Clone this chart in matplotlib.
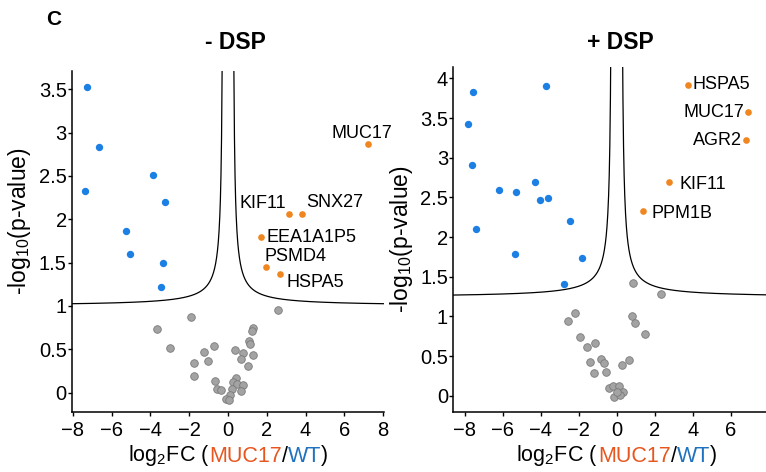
"""Volcano plots of MUC17 vs WT interactors, without and with DSP crosslinking."""

import matplotlib

matplotlib.use("Agg")
import matplotlib.pyplot as plt
import numpy as np

plt.rcParams.update({
    "font.family": "Liberation Sans",
    "mathtext.fontset": "custom",
    "mathtext.rm": "Liberation Sans",
    "mathtext.default": "regular",
})

# ---- data --------------------------------------------------------------------
# panel "- DSP"
L_BLUE_X = [-7.27, -6.66, -7.39, -3.85, -3.23, -5.26, -5.04, -3.35, -3.44]
L_BLUE_Y = [3.52, 2.83, 2.33, 2.51, 2.20, 1.86, 1.60, 1.50, 1.22]

L_HIT_NAMES = ["MUC17", "KIF11", "SNX27", "EEA1A1P5", "PSMD4", "HSPA5"]
L_HIT_X = [7.25, 3.14, 3.80, 1.72, 1.94, 2.68]
L_HIT_Y = [2.87, 2.06, 2.06, 1.80, 1.45, 1.37]

L_GRAY_X = [2.56, -1.91, -3.68, 1.31, 1.24, -2.97, -0.72, -1.25, 1.07, 1.15,
            0.38, 0.77, 1.27, -1.77, -1.02, 0.65, 1.02, -1.74, -0.69, 0.43,
            0.24, 0.45, 0.79, -0.55, -0.38, 0.22, 0.67, 0.10, -0.10, 0.04]
L_GRAY_Y = [0.95, 0.87, 0.73, 0.74, 0.71, 0.51, 0.54, 0.47, 0.59, 0.56,
            0.49, 0.46, 0.43, 0.34, 0.36, 0.39, 0.31, 0.19, 0.13, 0.17,
            0.12, 0.10, 0.09, 0.04, 0.03, 0.04, 0.02, -0.03, -0.07, -0.08]

# panel "+ DSP"
R_BLUE_X = [-7.54, -7.84, -7.64, -3.73, -7.40, -6.21, -5.32, -4.31, -4.02,
            -3.61, -2.45, -5.36, -1.85, -2.76]
R_BLUE_Y = [3.83, 3.42, 2.91, 3.91, 2.10, 2.59, 2.57, 2.70, 2.47,
            2.49, 2.20, 1.79, 1.74, 1.41]

R_HIT_NAMES = ["HSPA5", "MUC17", "AGR2", "KIF11", "PPM1B"]
R_HIT_X = [3.77, 6.90, 6.79, 2.76, 1.38]
R_HIT_Y = [3.92, 3.58, 3.22, 2.69, 2.33]

R_GRAY_X = [0.87, 2.31, -2.18, -2.55, 0.79, 0.94, 1.48, -1.92, -1.57, -1.14,
            -1.42, -0.85, -0.68, 0.66, 0.30, -1.17, -0.58, -0.40, -0.19, 0.14,
            0.35, -0.12, 0.19, 0.02]
R_GRAY_Y = [1.42, 1.28, 1.05, 0.94, 1.01, 0.92, 0.78, 0.74, 0.62, 0.66,
            0.43, 0.47, 0.42, 0.45, 0.39, 0.29, 0.30, 0.10, 0.12, 0.13,
            0.05, -0.01, 0.01, 0.05]

# significance threshold curve: y = y0 + c / (|x| - x0)
L_CURVE = dict(y0=1.0, c=0.2, x0=0.23)
R_CURVE = dict(y0=1.24, c=0.25, x0=0.23)

L_XTICKS = [-8, -6, -4, -2, 0, 2, 4, 6, 8]
R_XTICKS = [-8, -6, -4, -2, 0, 2, 4, 6]
L_YTICKS = [0, 0.5, 1, 1.5, 2, 2.5, 3, 3.5]
R_YTICKS = [0, 0.5, 1, 1.5, 2, 2.5, 3, 3.5, 4]

# ---- styling ----------------------------------------------------------------
BLUE = "#1b7fe3"
ORANGE = "#f0861f"
GRAY = "#a3a3a3"
GRAY_EDGE = "#7a7a7a"
LABEL_ORANGE = "#e8561f"
LABEL_BLUE = "#1f72bf"

# label placement: (dx, dy) in points, ha
L_OFFSETS = {
    "MUC17": ((-4.8, 4.5), "center"),
    "KIF11": ((-1.7, 4.6), "right"),
    "SNX27": ((3.1, 4.8), "left"),
    "EEA1A1P5": ((3.4, -4.1), "left"),
    "PSMD4": ((-1.0, 4.6), "left"),
    "HSPA5": ((4.8, -9.6), "left"),
}
R_OFFSETS = {
    "HSPA5": ((3.1, -3.3), "left"),
    "MUC17": ((-2.7, -3.6), "right"),
    "AGR2": ((-2.4, -3.6), "right"),
    "KIF11": ((7.4, -4.8), "left"),
    "PPM1B": ((6.0, -4.8), "left"),
}

W, H = 766, 472


def threshold(ax, p, xmin, xmax):
    for sign in (-1, 1):
        a = np.linspace(p["x0"] + 0.004, max(abs(xmin), abs(xmax)) + 0.1, 800)
        ax.plot(sign * a, p["y0"] + p["c"] / (a - p["x0"]), color="black",
                lw=0.9, zorder=1)


def panel(ax, blue, hits, gray, curve, offsets, xlim, ylim, xticks, yticks):
    threshold(ax, curve, *xlim)
    ax.scatter(*gray, s=30, color=GRAY, edgecolor=GRAY_EDGE, lw=0.6, zorder=2)
    ax.scatter(*blue, s=28, color=BLUE, lw=0, zorder=3)
    names, hx, hy = hits
    ax.scatter(hx, hy, s=23, color=ORANGE, lw=0, zorder=3)
    for n, x, y in zip(names, hx, hy):
        (dx, dy), ha = offsets[n]
        ax.annotate(n, (x, y), xytext=(dx, dy), textcoords="offset points",
                    ha=ha, va="baseline", fontsize=13)
    ax.set_xlim(*xlim)
    ax.set_ylim(*ylim)
    ax.set_xticks(xticks)
    ax.set_yticks(yticks)
    ax.set_yticklabels([f"{v:g}" for v in yticks])
    for s in ("top", "right"):
        ax.spines[s].set_visible(False)
    for s in ("left", "bottom"):
        ax.spines[s].set_linewidth(1.1)
    ax.tick_params(direction="out", length=3, width=1.0, labelsize=14.5)
    ax.tick_params(axis="y", pad=0.8)
    ax.tick_params(axis="x", pad=3.5)


def colored_xlabel(fig, ax, parts, y_px):
    renderer = fig.canvas.get_renderer()
    texts = [fig.text(0, 1 - y_px / H, s, color=c, fontsize=15.5,
                      ha="left", va="baseline") for s, c in parts]
    widths = [t.get_window_extent(renderer).width for t in texts]
    x = ax.transData.transform((0, 0))[0] - sum(widths) / 2
    for t, w in zip(texts, widths):
        t.set_x(x / W)
        x += w


fig = plt.figure(figsize=(W / 100, H / 100), dpi=100)
ax_l = fig.add_axes([72 / W, (H - 411.7) / H, 312 / W, 340.7 / H])
ax_r = fig.add_axes([453.3 / W, (H - 411.7) / H, 312.7 / W, 344.4 / H])

panel(ax_l, (L_BLUE_X, L_BLUE_Y), (L_HIT_NAMES, L_HIT_X, L_HIT_Y),
      (L_GRAY_X, L_GRAY_Y), L_CURVE, L_OFFSETS, (-8.05, 8.05), (-0.22, 3.71),
      L_XTICKS, L_YTICKS)
panel(ax_r, (R_BLUE_X, R_BLUE_Y), (R_HIT_NAMES, R_HIT_X, R_HIT_Y),
      (R_GRAY_X, R_GRAY_Y), R_CURVE, R_OFFSETS, (-8.6, 7.86), (-0.2, 4.14),
      R_XTICKS, R_YTICKS)

ax_l.set_ylabel("-log$_{10}$(p-value)", fontsize=16.5)
ax_l.yaxis.set_label_coords(-0.125, 0.56)
ax_r.set_ylabel("-log$_{10}$(p-value)", fontsize=16.5)
ax_r.yaxis.set_label_coords(-0.122, 0.5)

xlabel_parts = [("log$_2$FC (", "black"), ("MUC17", LABEL_ORANGE),
                ("/", "black"), ("WT", LABEL_BLUE), (")", "black")]
colored_xlabel(fig, ax_l, xlabel_parts, 461.5)
colored_xlabel(fig, ax_r, xlabel_parts, 461.5)

fig.text(235 / W, 1 - 49.3 / H, "- DSP", ha="center", va="baseline",
         fontsize=16.5, fontweight="bold")
fig.text(620.8 / W, 1 - 49.3 / H, "+ DSP", ha="center", va="baseline",
         fontsize=16.5, fontweight="bold")
fig.text(45.7 / W, 1 - 25 / H, "C", ha="left", va="baseline",
         fontsize=15, fontweight="bold")

fig.savefig("out.png", dpi=100)
